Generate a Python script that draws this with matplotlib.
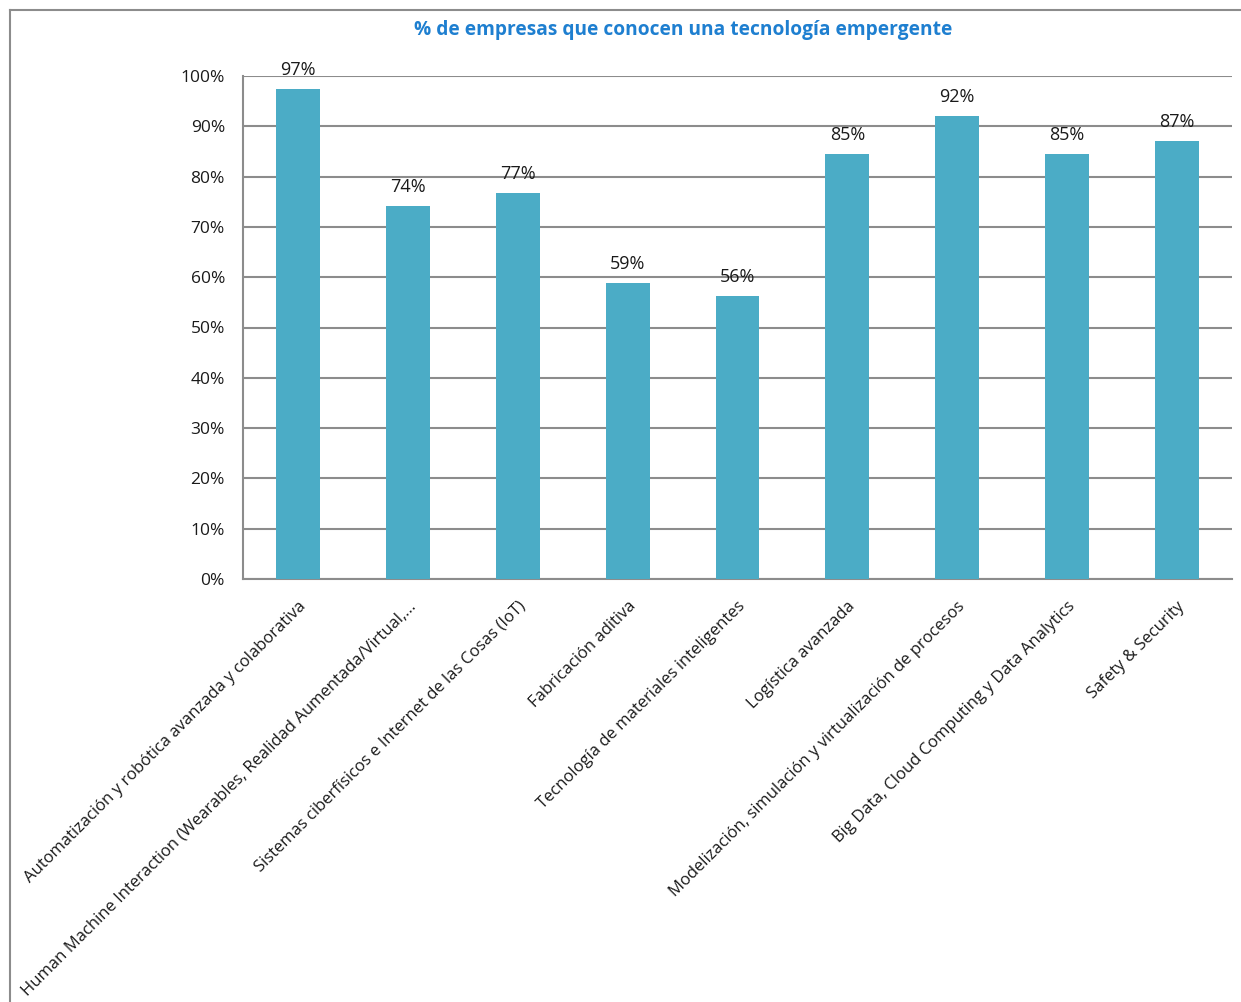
import matplotlib.pyplot as plt
from matplotlib.lines import Line2D

categories = [
    "Automatización y robótica avanzada y colaborativa",
    "Human Machine Interaction (Wearables, Realidad Aumentada/Virtual,...",
    "Sistemas ciberfísicos e Internet de las Cosas (IoT)",
    "Fabricación aditiva",
    "Tecnología de materiales inteligentes",
    "Logística avanzada",
    "Modelización, simulación y virtualización de procesos",
    "Big Data, Cloud Computing y Data Analytics",
    "Safety & Security",
]
values = [0.974, 0.742, 0.767, 0.588, 0.563, 0.845, 0.920, 0.845, 0.871]
value_labels = ["97%", "74%", "77%", "59%", "56%", "85%", "92%", "85%", "87%"]
yticks = [0, 0.1, 0.2, 0.3, 0.4, 0.5, 0.6, 0.7, 0.8, 0.9, 1.0]
ytick_labels = ["0%", "10%", "20%", "30%", "40%", "50%", "60%", "70%", "80%", "90%", "100%"]

plt.rcParams['font.family'] = ['Open Sans', 'DejaVu Sans']

fig = plt.figure(figsize=(12.41, 10.02), dpi=100)
ax = fig.add_axes([243 / 1241, 1 - 579 / 1002, 989 / 1241, 503 / 1002])

x = list(range(len(categories)))
ax.bar(x, values, width=0.4, color="#4BACC6", zorder=3)
for xi, v, lab in zip(x, values, value_labels):
    ax.text(xi, v + 0.02, lab, ha="center", va="bottom", fontsize=13, color="#1a1a1a", zorder=4)

ax.set_xlim(-0.5, len(categories) - 0.5)
ax.set_ylim(0, 1.0)
ax.set_yticks(yticks)
ax.set_yticklabels(ytick_labels, fontsize=12.5, color="#1a1a1a")
ax.set_xticks(x)
ax.set_xticklabels(categories, rotation=45, ha="right", rotation_mode="anchor",
                   fontsize=12, color="#1a1a1a")
ax.tick_params(axis="x", length=0, pad=14)
ax.tick_params(axis="y", length=0, pad=13)
ax.grid(axis="y", color="#8c8c8c", linewidth=1.5, zorder=0)
for side in ["top", "right"]:
    ax.spines[side].set_visible(False)
ax.spines["left"].set_color("#8c8c8c")
ax.spines["left"].set_linewidth(1.5)
ax.spines["bottom"].set_color("#8c8c8c")
ax.spines["bottom"].set_linewidth(1.5)

fig.text(683 / 1241, 1 - 30 / 1002, "% de empresas que conocen una tecnología empergente",
         ha="center", va="center", fontsize=13.8, fontweight="bold", color="#1E7FD0")

# chart frame (cut off at right and bottom)
fig.add_artist(Line2D([10 / 1241, 1.0], [1 - 10 / 1002, 1 - 10 / 1002],
                      transform=fig.transFigure, color="#8c8c8c", linewidth=1.5))
fig.add_artist(Line2D([10 / 1241, 10 / 1241], [0, 1 - 10 / 1002],
                      transform=fig.transFigure, color="#8c8c8c", linewidth=1.5))

fig.savefig("out.png", dpi=100)
